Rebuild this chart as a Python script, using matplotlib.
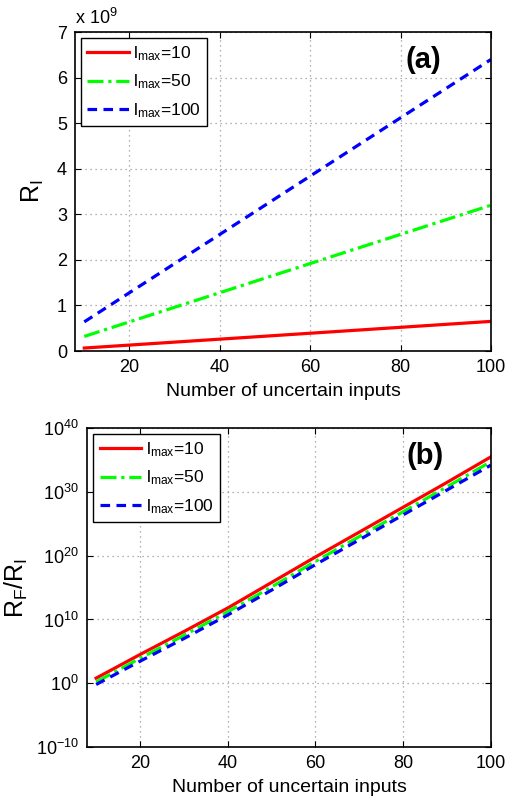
import numpy as np
import matplotlib
matplotlib.use("Agg")
import matplotlib.pyplot as plt
from matplotlib.ticker import FuncFormatter, NullLocator

plt.rcParams['font.family'] = ['Liberation Sans', 'DejaVu Sans']
plt.rcParams['mathtext.fontset'] = 'custom'
plt.rcParams['mathtext.rm'] = 'Liberation Sans'
plt.rcParams['mathtext.it'] = 'Liberation Sans'

# Numero de entradas inciertas
n_inputs = [10, 20, 30, 40, 50, 60, 70, 80, 90, 100]

# (a) R_I, en unidades de 1e9
ri_l10 = [0.065, 0.13, 0.195, 0.26, 0.325, 0.39, 0.455, 0.52, 0.585, 0.65]
ri_l50 = [0.32, 0.64, 0.96, 1.28, 1.60, 1.92, 2.24, 2.56, 2.88, 3.20]
ri_l100 = [0.64, 1.28, 1.92, 2.56, 3.20, 3.84, 4.48, 5.12, 5.76, 6.40]

# (b) log10(R_F/R_I)
ratio_l10 = [0.8, 4.5, 8.1, 11.8, 15.8, 19.8, 23.7, 27.6, 31.5, 35.5]
ratio_l50 = [0.2, 3.9, 7.5, 11.2, 15.1, 19.1, 23.0, 26.9, 30.8, 34.75]
ratio_l100 = [-0.2, 3.45, 7.0, 10.7, 14.6, 18.6, 22.5, 26.4, 30.3, 34.2]

labels = [r'l$_{\mathregular{max}}$=10', r'l$_{\mathregular{max}}$=50', r'l$_{\mathregular{max}}$=100']
x_ticks = [20, 40, 60, 80, 100]
log_ticks = [-10, 0, 10, 20, 30, 40]

estilos = [dict(color='#ff0000', ls='-'),
           dict(color='#00ff00', ls=(0, (5, 1.5, 1, 1.5))),
           dict(color='#0000ff', ls=(0, (3, 2)))]

fig = plt.figure(figsize=(5.05, 7.99), dpi=100)
ax1 = fig.add_axes([0.149, 0.5607, 0.823, 0.399])
ax2 = fig.add_axes([0.173, 0.0651, 0.799, 0.399])

x = np.array(n_inputs)

# Panel (a)
for datos, est, lab in zip([ri_l10, ri_l50, ri_l100], estilos, labels):
    ax1.plot(x, np.array(datos) * 1e9, lw=2.3, label=lab, **est)
ax1.set_xlim(8, 100)
ax1.set_ylim(0, 7e9)
ax1.set_yticks(np.arange(0, 8) * 1e9)
ax1.yaxis.set_major_formatter(FuncFormatter(lambda v, p: '%d' % round(v / 1e9)))
ax1.text(0.0, 1.012, r'x 10$^{9}$', transform=ax1.transAxes, fontsize=13, ha='left', va='bottom')
ax1.set_ylabel(r'R$_{\mathregular{I}}$', fontsize=18, labelpad=8)
ax1.text(85, 6.4e9, '(a)', fontsize=21, fontweight='bold', ha='center', va='center')

# Panel (b)
for datos, est, lab in zip([ratio_l10, ratio_l50, ratio_l100], estilos, labels):
    ax2.plot(x, 10.0 ** np.array(datos), lw=2.3, label=lab, **est)
ax2.set_yscale('log')
ax2.set_xlim(8, 100)
ax2.set_ylim(1e-10, 1e40)
ax2.set_yticks([10.0 ** t for t in log_ticks])
ax2.yaxis.set_minor_locator(NullLocator())
ax2.set_yticklabels([r'10$^{%d}$' % t for t in log_ticks])
ax2.set_ylabel(r'R$_{\mathregular{F}}$/R$_{\mathregular{I}}$', fontsize=18, labelpad=4)
ax2.text(85, 10 ** 35.6, '(b)', fontsize=21, fontweight='bold', ha='center', va='center')

for ax in (ax1, ax2):
    ax.set_xticks(x_ticks)
    ax.set_xlabel('Number of uncertain inputs', fontsize=14, labelpad=5)
    ax.grid(True, ls=(0, (1, 3)), color='#999999', lw=0.9)
    ax.tick_params(direction='in', top=True, right=True, labelsize=13, length=4, pad=6)
    for s in ax.spines.values():
        s.set_linewidth(1.2)
    leg = ax.legend(loc='upper left', fontsize=12.5, fancybox=False, framealpha=1,
                    edgecolor='black', handlelength=2.4, borderpad=0.35,
                    labelspacing=0.55, handletextpad=0.25, borderaxespad=0.35)
    leg.get_frame().set_linewidth(1.0)

fig.savefig('out.png', dpi=100)
